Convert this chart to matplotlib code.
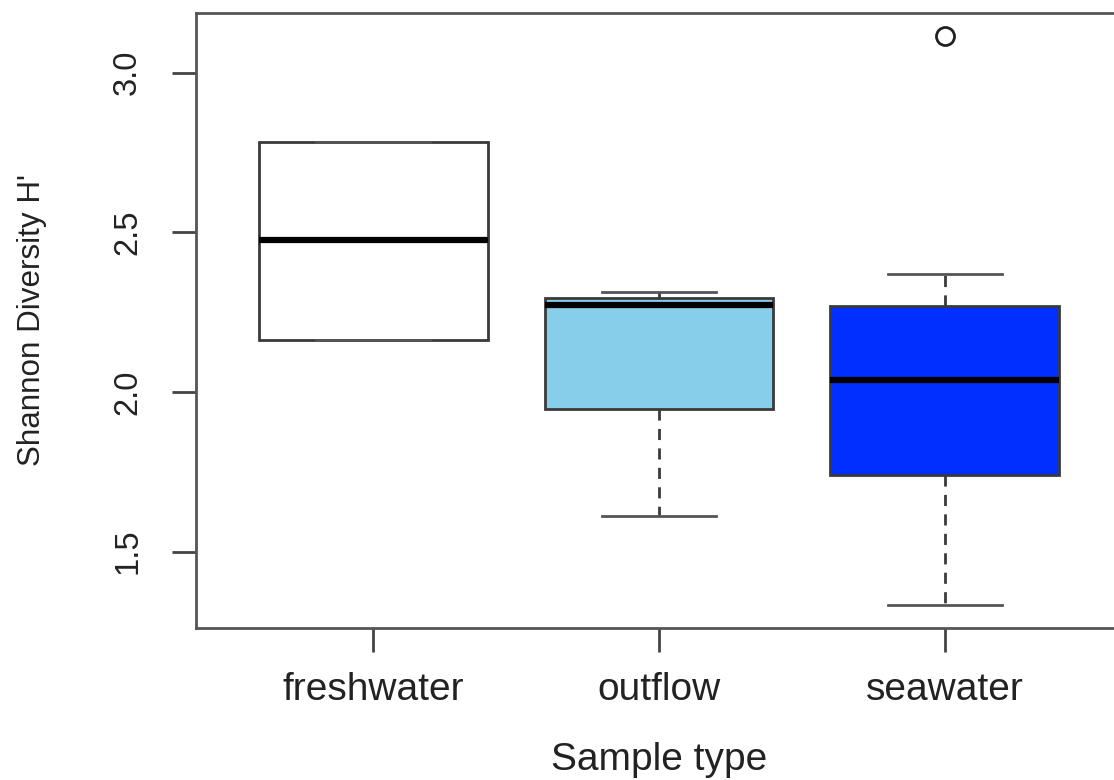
import matplotlib.pyplot as plt

plt.rcParams['font.family'] = ['Liberation Sans', 'DejaVu Sans']

# values
groups = ['freshwater', 'outflow', 'seawater']
q1 = [2.163, 1.947, 1.740]
med = [2.476, 2.273, 2.038]
q3 = [2.784, 2.295, 2.270]
whislo = [2.163, 1.611, 1.332]
whishi = [2.784, 2.312, 2.370]
fliers = [[], [], [3.116]]
fills = ['white', '#87ceeb', '#0030ff']
yticks = [1.5, 2.0, 2.5, 3.0]

stats = []
for i, g in enumerate(groups):
    stats.append(dict(label=g, q1=q1[i], med=med[i], q3=q3[i],
                      whislo=whislo[i], whishi=whishi[i], fliers=fliers[i]))

fig = plt.figure(figsize=(11.14, 7.8), dpi=100)
ax = fig.add_axes([196/1114, 1 - 628/780, (1122 - 196)/1114, (628 - 13)/780])

edge = '#3a3a3a'
bp = ax.bxp(stats, positions=[1, 2, 3], widths=0.8, capwidths=0.4,
            patch_artist=True,
            boxprops=dict(edgecolor=edge, linewidth=2),
            medianprops=dict(color='black', linewidth=4.5, solid_capstyle='butt'),
            whiskerprops=dict(color=edge, linewidth=2, linestyle=(0, (4, 3))),
            capprops=dict(color='#555555', linewidth=2),
            flierprops=dict(marker='o', markersize=13, markerfacecolor='none',
                            markeredgecolor='#222222', markeredgewidth=2))
for patch, c in zip(bp['boxes'], fills):
    patch.set_facecolor(c)

ax.set_xlim(0.38, 3.62)
ax.set_ylim(1.261, 3.187)
ax.set_yticks(yticks)
ax.set_yticklabels([f'{v:.1f}' for v in yticks], rotation=90, va='center',
                   fontsize=23.5, color='#222222')
ax.set_xticks([1, 2, 3])
ax.set_xticklabels(groups, fontsize=28, color='#222222')
ax.tick_params(axis='both', length=17, width=2, color='#444444')
ax.tick_params(axis='y', pad=21)
ax.tick_params(axis='x', pad=15)

for s in ax.spines.values():
    s.set_color('#555555')
    s.set_linewidth(2)

ax.set_xlabel('Sample type', fontsize=28, color='#222222', labelpad=24)
ax.set_ylabel("Shannon Diversity H'", fontsize=22.6, color='#222222',
              labelpad=47)

fig.savefig('out.png', dpi=100)
